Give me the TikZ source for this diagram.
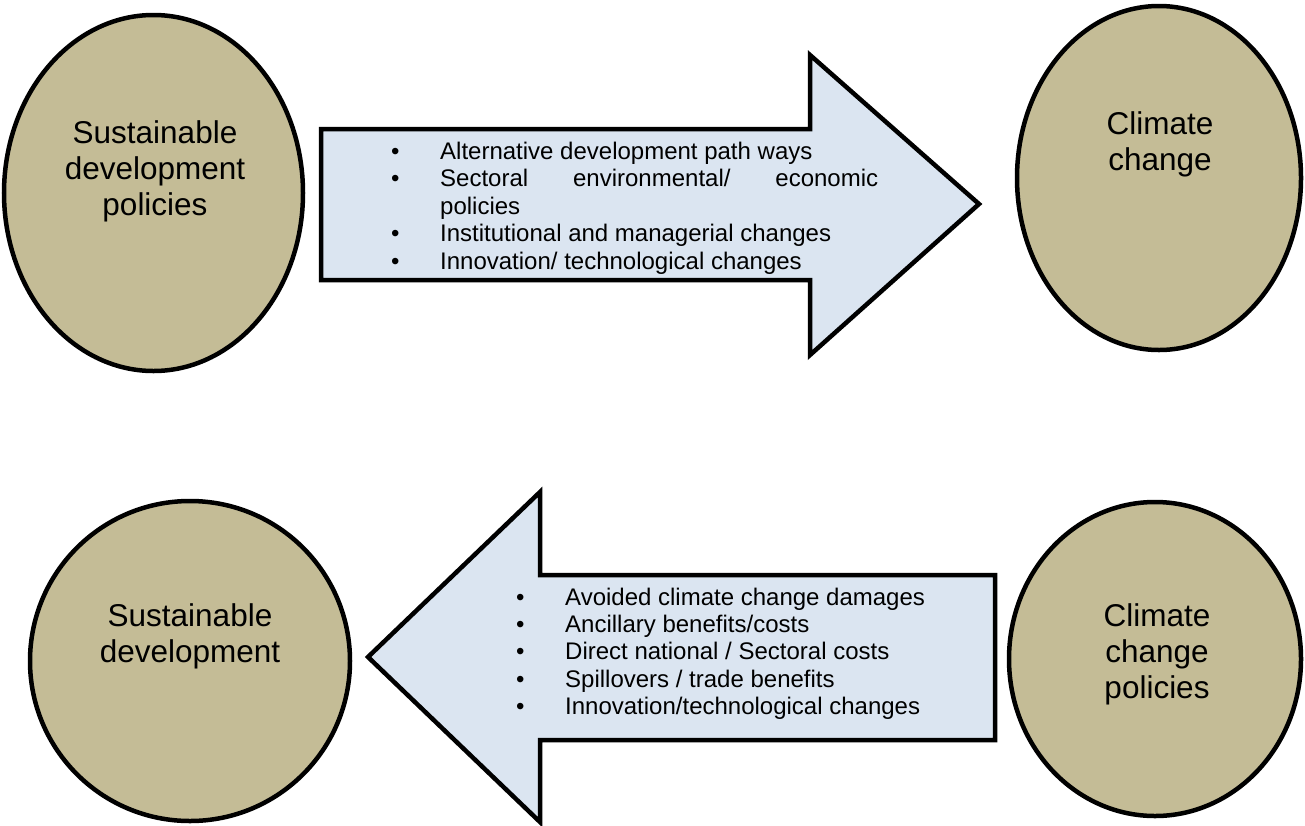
\documentclass[tikz,border=0pt]{standalone}
\usepackage{fontspec}
\setmainfont{Liberation Sans}
\usetikzlibrary{shapes.geometric}
\definecolor{tanfill}{HTML}{C4BC96}
\definecolor{arrowfill}{HTML}{DBE5F1}
\newcommand{\bulitem}[1]{\makebox[49pt][l]{\textbullet}#1}
\newcommand{\ellipsetext}[1]{\parbox[t]{320pt}{\centering\fontsize{31.5}{36}\selectfont #1}}
\tikzset{
  blob/.style={ellipse, draw=black, line width=4.5pt, fill=tanfill, inner sep=0pt},
  bigarrow/.style={draw=black, line width=4.5pt, fill=arrowfill, line join=miter},
  etext/.style={anchor=base, inner sep=0pt},
  atext/.style={anchor=base west, inner sep=0pt}
}
\begin{document}
\begin{tikzpicture}[x=1pt, y=-1pt]
\useasboundingbox (0,0) rectangle (1305,825);
% ellipses
\node[blob, minimum width=299pt, minimum height=356pt] (sdp) at (153.5,193) {};
\node[blob, minimum width=284pt, minimum height=344pt] (cc) at (1159,178) {};
\node[blob, minimum width=320pt, minimum height=320pt] (sd) at (190,661) {};
\node[blob, minimum width=292pt, minimum height=314pt] (ccp) at (1155,659) {};
% ellipse labels
\node[etext] (sdpt) at (155,143) {\ellipsetext{Sustainable\\development\\policies}};
\node[etext] (cct) at (1160,134) {\ellipsetext{Climate\\change}};
\node[etext] (sdt) at (190,626) {\ellipsetext{Sustainable\\development}};
\node[etext] (ccpt) at (1157,626) {\ellipsetext{Climate\\change\\policies}};
% top arrow
\draw[bigarrow] (321,129) -- (810,129) -- (810,55) -- (979,204) -- (810,355) -- (810,280) -- (321,280) -- cycle;
\node[atext] (toplist) at (391,159) {\parbox[t]{487pt}{\fontsize{24}{27.5}\selectfont\raggedright
\bulitem{Alternative development path ways}\\
\bulitem{\makebox[438pt][s]{Sectoral environmental/ economic}}\\
\hspace*{49pt}policies\\
\bulitem{Institutional and managerial changes}\\
\bulitem{Innovation/ technological changes}}};
% bottom arrow
\draw[bigarrow] (995,575) -- (540,575) -- (540,492) -- (368,657) -- (540,822) -- (540,740) -- (995,740) -- cycle;
\node[atext] (botlist) at (516,605) {\parbox[t]{460pt}{\fontsize{24}{27.4}\selectfont\raggedright
\bulitem{Avoided climate change damages}\\
\bulitem{Ancillary benefits/costs}\\
\bulitem{Direct national / Sectoral costs}\\
\bulitem{Spillovers / trade benefits}\\
\bulitem{Innovation/technological changes}}};
\end{tikzpicture}
\end{document}
